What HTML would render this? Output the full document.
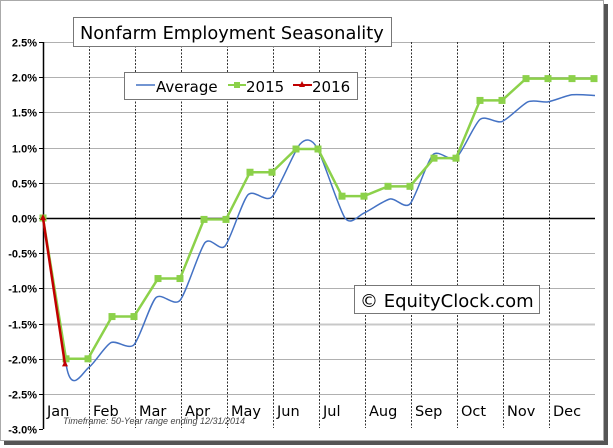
<!DOCTYPE html>
<html><head><meta charset="utf-8"><style>
html,body{margin:0;padding:0;background:#fff;width:613px;height:448px;overflow:hidden}
svg{display:block}
text{font-family:"Liberation Sans",sans-serif}
.m{font-family:"DejaVu Sans","Liberation Sans",sans-serif;font-size:14.5px;fill:#000}
.y{font-size:11px;font-weight:bold;text-anchor:end;fill:#000}
</style></head><body>
<svg id="s" width="613" height="448" viewBox="0 0 613 448">
<rect x="0.5" y="0.5" width="603" height="440" fill="#fff" stroke="#aaa"/>
<rect x="604" y="4" width="4" height="441" fill="#555"/>
<rect x="4" y="441" width="604" height="4" fill="#555"/>
<g id="grid"></g>
<g id="series"></g>
<rect x="73.5" y="17.5" width="318" height="29" fill="#fff" stroke="#777"/>
<text x="80" y="39" style="font-family:'DejaVu Sans',sans-serif;font-size:17.8px">Nonfarm Employment Seasonality</text>
<rect x="124.5" y="72.5" width="233" height="27" fill="#fff" stroke="#777"/>
<line x1="136" y1="85" x2="155" y2="85" stroke="#4472c4" stroke-width="1.5"/>
<text x="156" y="92" style="font-family:'DejaVu Sans',sans-serif;font-size:15px">Average</text>
<line x1="228" y1="85" x2="246" y2="85" stroke="#8cd14a" stroke-width="2"/>
<rect x="234" y="82" width="6" height="6" fill="#8cd14a"/>
<text x="246" y="92" style="font-family:'DejaVu Sans',sans-serif;font-size:15px">2015</text>
<line x1="293" y1="85" x2="312" y2="85" stroke="#c00000" stroke-width="2"/>
<polygon points="302,81 305,87 299,87" fill="#c00000"/>
<text x="312" y="92" style="font-family:'DejaVu Sans',sans-serif;font-size:15px">2016</text>
<rect x="354.5" y="285.5" width="185" height="28" fill="#fff" stroke="#777"/>
<text x="360" y="307" style="font-family:'DejaVu Sans',sans-serif;font-size:18px">© EquityClock.com</text>
<text x="63" y="424" style="font-size:9px;font-style:italic;fill:#444">Timeframe: 50-Year range ending 12/31/2014</text>
</svg>
<script>
var NS="http://www.w3.org/2000/svg";
function Y(v){return 218-v*70.4}
function el(p,t,a){var e=document.createElementNS(NS,t);for(var k in a)e.setAttribute(k,a[k]);p.appendChild(e);return e}
var g=document.getElementById('grid'),s=document.getElementById('series');
var labs=["2.5%","2.0%","1.5%","1.0%","0.5%","0.0%","-0.5%","-1.0%","-1.5%","-2.0%","-2.5%","-3.0%"];
for(var i=0;i<12;i++){var v=2.5-i*0.5,y=Math.round(Y(v))+0.5;
 if(i<11&&i!=5)el(g,'line',{x1:43,y1:y,x2:595,y2:y,stroke:(i==8?'#c8c8c8':'#b0b0b0'),'stroke-width':(i==8?2:1)});
 el(g,'line',{x1:39,y1:y,x2:43,y2:y,stroke:'#000'});
 var t=el(g,'text',{x:37,y:y+4,'class':'y'});t.textContent=labs[i];}
var mon=["Jan","Feb","Mar","Apr","May","Jun","Jul","Aug","Sep","Oct","Nov","Dec"];
for(var m=0;m<12;m++){var x=Math.round(43+(m+1)*46)+0.5;
 if(m<11)el(g,'line',{x1:x,y1:42,x2:x,y2:428,stroke:'#333','stroke-dasharray':'2,1.5','stroke-width':1});
 var t=el(g,'text',{x:43+m*46+4,y:416,'class':'m'});t.textContent=mon[m];}
el(g,'line',{x1:43,y1:218.5,x2:595,y2:218.5,stroke:'#000','stroke-width':1.5});
el(g,'line',{x1:43.5,y1:42,x2:43.5,y2:429,stroke:'#000','stroke-width':1.5});
var avg=[[43,0],[68,-2.2],[89,-2.12],[111,-1.77],[134,-1.8],[156,-1.13],[180,-1.17],[205,-0.35],[225,-0.4],[248,0.33],[272,0.3],[300,1.05],[317,1.0],[345,0.0],[364,0.07],[390,0.27],[410,0.2],[433,0.9],[456,0.85],[480,1.4],[502,1.37],[528,1.65],[548,1.65],[572,1.75],[595,1.74]];
var P=avg.map(function(p){return [p[0],Y(p[1])]});
var d="M"+P[0][0]+","+P[0][1],k=8;
for(var i=0;i<P.length-1;i++){var p0=P[Math.max(0,i-1)],p1=P[i],p2=P[i+1],p3=P[Math.min(P.length-1,i+2)];
 d+=" C"+(p1[0]+(p2[0]-p0[0])/k)+","+(p1[1]+(p2[1]-p0[1])/k)+" "+(p2[0]-(p3[0]-p1[0])/k)+","+(p2[1]-(p3[1]-p1[1])/k)+" "+p2[0]+","+p2[1];}
el(s,'path',{d:d,fill:'none',stroke:'#4472c4','stroke-width':1.5});
var v15=[-2.0,-1.4,-0.86,-0.02,0.65,0.98,0.31,0.45,0.85,1.67,1.98,1.98];
var pts=[[43,Y(0)]];
for(var m=0;m<12;m++){pts.push([43+m*46+23,Y(v15[m])]);pts.push([43+(m+1)*46-1,Y(v15[m])]);}
el(s,'polyline',{points:pts.map(function(p){return p.join(',')}).join(' '),fill:'none',stroke:'#8cd14a','stroke-width':2.5});
pts.forEach(function(p){el(s,'rect',{x:p[0]-3.5,y:p[1]-3.5,width:7,height:7,fill:'#8cd14a'})});
el(s,'line',{x1:43,y1:Y(0),x2:65,y2:Y(-2.08),stroke:'#c00000','stroke-width':2.5});
el(s,'polygon',{points:"43,214 46,220 40,220",fill:'#c00000'});
el(s,'polygon',{points:"65,"+(Y(-2.08)-4)+" 68,"+(Y(-2.08)+2)+" 62,"+(Y(-2.08)+2),fill:'#c00000'});
</script>
</body></html>
